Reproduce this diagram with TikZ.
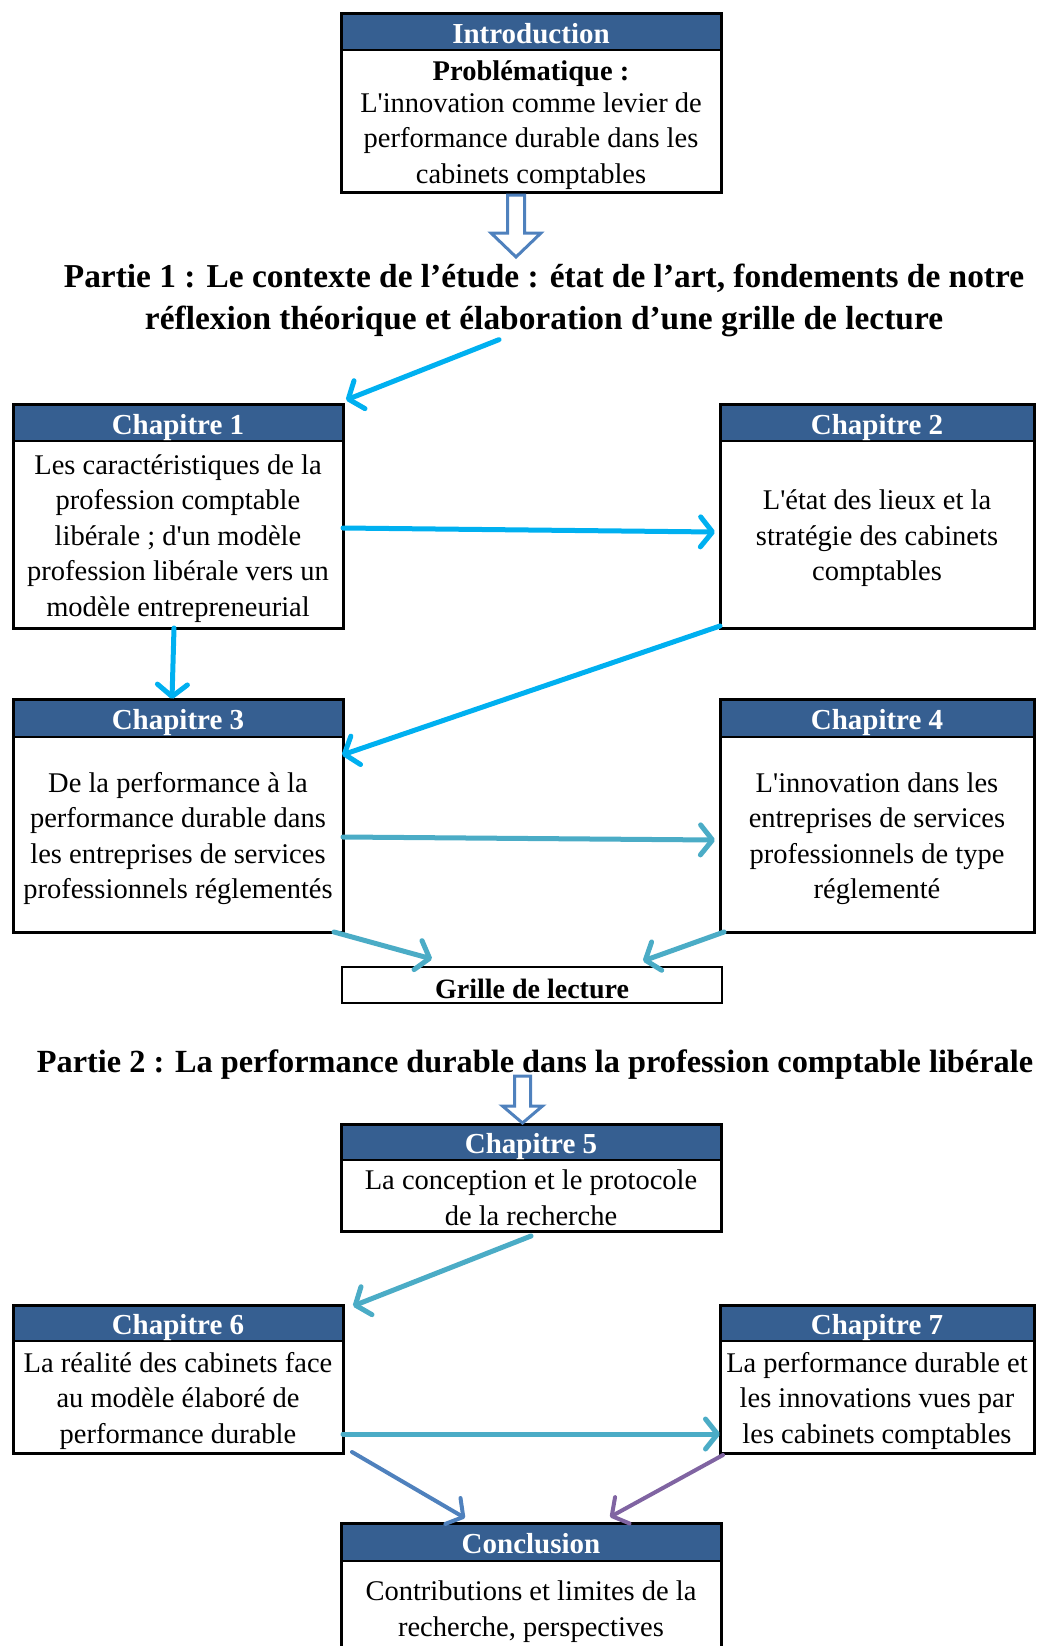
\documentclass[tikz,border=0pt]{standalone}
\usepackage{fontspec}
\setmainfont{Liberation Serif}
\usetikzlibrary{positioning,arrows.meta}
\definecolor{hdrblue}{HTML}{365F91}
\definecolor{skyline}{HTML}{00B0F0}
\definecolor{aqualine}{HTML}{4BACC6}
\definecolor{blueline}{HTML}{4F81BD}
\definecolor{purpleline}{HTML}{8064A2}
\newcommand{\apos}{\textquotesingle}
\newcommand{\topgap}{\rule{0pt}{28pt}}

\begin{document}
\begin{tikzpicture}[x=1pt,y=-1pt]
        \tikzset{
            body/.style={fill=white, align=center, inner sep=0pt, outer sep=0pt, font=\fontsize{28.5}{35.5}\selectfont},
            head/.style={fill=hdrblue, draw=black, line width=1.2pt, text=white, inner sep=0pt, outer sep=0pt, text height=23pt, text depth=0pt, font=\fontsize{29}{30}\selectfont\bfseries},
            border/.style={line width=3pt},
            title/.style={align=center, inner sep=0pt, font=\fontsize{33.4}{42}\selectfont\bfseries},
            link/.style={line width=5pt, line cap=round, -{Straight Barb[length=12pt,width=30pt,round]}},
            hollow/.style={draw=blueline, line width=3pt, fill=white}
        }
        \useasboundingbox (0,0) rectangle (1037,1646);
        % introduction et partie 1
        \node[body, minimum width=380pt, minimum height=142pt] (intro) at (531,121) {\topgap\textbf{Problématique :}\\[-4pt]L\apos innovation comme levier de\\performance durable dans les\\cabinets comptables};
        \node[head, minimum width=380pt, minimum height=36pt, above=0pt of intro] (intro-head) {Introduction};
        \node[title] (p1) at (544,300) {Partie 1 : Le contexte de l’étude : état de l’art, fondements de notre\\réflexion théorique et élaboration d’une grille de lecture};
        \node[body, minimum width=330pt, minimum height=187pt] (ch1) at (178,534.5) {\topgap Les caractéristiques de la\\profession comptable\\libérale ; d\apos un modèle\\profession libérale vers un\\modèle entrepreneurial};
        \node[head, minimum width=330pt, minimum height=37pt, above=0pt of ch1] (ch1-head) {Chapitre 1};
        \node[body, minimum width=314pt, minimum height=187pt] (ch2) at (877,534.5) {\topgap L\apos état des lieux et la\\stratégie des cabinets\\comptables};
        \node[head, minimum width=314pt, minimum height=37pt, above=0pt of ch2] (ch2-head) {Chapitre 2};
        \node[body, minimum width=330pt, minimum height=195pt] (ch3) at (178,834.5) {\topgap De la performance à la\\performance durable dans\\les entreprises de services\\professionnels réglementés};
        \node[head, minimum width=330pt, minimum height=38pt, above=0pt of ch3] (ch3-head) {Chapitre 3};
        \node[body, minimum width=314pt, minimum height=195pt] (ch4) at (877,834.5) {\topgap L\apos innovation dans les\\entreprises de services\\professionnels de type\\réglementé};
        \node[head, minimum width=314pt, minimum height=38pt, above=0pt of ch4] (ch4-head) {Chapitre 4};
        \node[body, draw, line width=2pt, minimum width=380pt, minimum height=36pt, font=\fontsize{28}{30}\selectfont\bfseries] (grille) at (532,985) {\topgap Grille de lecture};
        % partie 2
        \node[title, font=\fontsize{32.3}{42}\selectfont\bfseries] (p2) at (535,1065) {Partie 2 : La performance durable dans la profession comptable libérale};
        \node[body, minimum width=380pt, minimum height=71pt] (ch5) at (531,1195.5) {\rule{0pt}{24pt}La conception et le protocole\\de la recherche};
        \node[head, minimum width=380pt, minimum height=36pt, above=0pt of ch5] (ch5-head) {Chapitre 5};
        \node[body, minimum width=330pt, minimum height=112pt] (ch6) at (178,1397) {\topgap La réalité des cabinets face\\au modèle élaboré de\\performance durable};
        \node[head, minimum width=330pt, minimum height=36pt, above=0pt of ch6] (ch6-head) {Chapitre 6};
        \node[body, minimum width=314pt, minimum height=112pt] (ch7) at (877,1397) {\topgap La performance durable et\\les innovations vues par\\les cabinets comptables};
        \node[head, minimum width=314pt, minimum height=36pt, above=0pt of ch7] (ch7-head) {Chapitre 7};
        \node[body, minimum width=380pt, minimum height=93pt] (concl) at (531,1607.5) {\topgap Contributions et limites de la\\recherche, perspectives};
        \node[head, minimum width=380pt, minimum height=38pt, above=0pt of concl] (concl-head) {Conclusion};
        \foreach \b in {intro,ch1,ch2,ch3,ch4,ch5,ch6,ch7,concl}
            \draw[border] (\b-head.north west) rectangle (\b.south east);
        % fleches creuses
        \draw[hollow] ([xshift=-23.5pt,yshift=-3pt]intro.south) -- ++(0,38) -- ++(-16.5,0) -- ++(25,24) -- ++(25,-24) -- ++(-16.5,0) -- ++(0,-38) -- cycle;
        \draw[hollow] ([xshift=-8.5pt,yshift=1pt]ch5-head.north) -- ++(-20,-17) -- ++(12,0) -- ++(0,-30) -- ++(16,0) -- ++(0,30) -- ++(12,0) -- cycle;
        % liens
        \draw[link, skyline] ([xshift=-45pt,yshift=-3pt]p1.south) -- ([xshift=3pt,yshift=4pt]ch1-head.north east);
        \draw[link, skyline] ([yshift=6.5pt]ch1.east) -- ([xshift=-5pt,yshift=2.5pt]ch2.west);
        \draw[link, skyline] ([xshift=-4pt]ch1.south) -- ([xshift=-6pt]ch3-head.north);
        \draw[link, skyline] ([yshift=2pt]ch2.south west) -- ([xshift=-1pt,yshift=-18pt]ch3.north east);
        \draw[link, aqualine] ([yshift=-2.5pt]ch3.east) -- ([xshift=-5pt,yshift=-5.5pt]ch4.west);
        \draw[link, aqualine] ([xshift=-9pt]ch3.south east) -- ([xshift=90pt,yshift=8pt]grille.north west);
        \draw[link, aqualine] ([xshift=4pt]ch4.south west) -- ([xshift=-79pt,yshift=6pt]grille.north east);
        \draw[link, aqualine] ([yshift=-5pt]ch5.south) -- ([xshift=10pt,yshift=-1pt]ch6-head.north east);
        \draw[link, aqualine] ([yshift=-37pt]ch6.east) -- ([yshift=-37pt]ch7.west);
        \draw[link, blueline, line width=4pt] ([xshift=9pt,yshift=1pt]ch6.south east) -- ([xshift=124pt,yshift=5pt]concl-head.north west);
        \draw[link, purpleline, line width=4pt] ([xshift=3pt,yshift=-2pt]ch7.south west) -- ([xshift=-111pt,yshift=6pt]concl-head.north east);
    \end{tikzpicture}
\end{document}
